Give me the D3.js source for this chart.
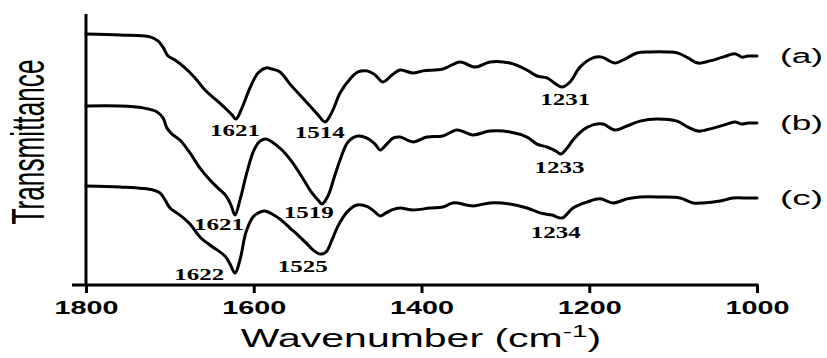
<!DOCTYPE html>
<html>
<head>
<meta charset="utf-8">
<script src="https://cdn.jsdelivr.net/npm/d3@7"></script>
<style>
  body { margin: 0; background: #fff; }
  svg { display: block; }
</style>
</head>
<body>
<div id="Area"></div>
<script>
// FTIR spectra, wavenumber (cm-1) vs transmittance (a.u.)
let aWn = [1800,1759.5,1723.7,1714.2,1708.2,1702.2,1693.9,1682.0,1670.0,1658.1,1646.2,1634.3,1625.9,1621.2,1614.0,1604.5,1594.9,1585.4,1578.2,1568.7,1556.8,1544.9,1532.9,1523.4,1515.0,1506.7,1497.1,1485.2,1475.7,1465.0,1455.4,1445.9,1435.2,1425.6,1410.1,1398.2,1374.4,1354.1,1336.2,1318.3,1294.5,1274.2,1262.3,1250.4,1239.6,1232.5,1223.0,1211.0,1195.5,1184.8,1177.6,1169.3,1157.4,1143.1,1127.6,1107.3,1094.2,1082.3,1070.4,1056.0,1040.5,1026.2,1017.9,1010.7,1000];
let aT  = [93.0,92.6,91.9,90.4,88.1,84.8,83.3,80.4,76.7,72.2,68.9,65.6,63.0,61.5,65.6,73.0,78.5,80.4,80.0,78.9,74.4,70.4,66.3,63.0,60.4,64.1,71.1,76.3,78.9,79.3,77.8,75.2,77.8,79.6,78.5,79.3,80.0,82.6,80.7,82.6,82.2,79.6,77.4,76.7,74.4,73.3,75.2,80.7,84.1,84.4,83.3,82.2,83.7,85.9,86.3,86.3,85.9,84.1,82.2,83.0,84.4,85.6,84.4,84.8,84.8];

let bWn = [1800,1759.5,1732.0,1715.3,1708.2,1703.4,1697.5,1688.0,1676.0,1664.1,1652.2,1642.6,1633.1,1627.1,1622.4,1616.4,1608.0,1599.7,1592.5,1585.4,1578.2,1566.3,1554.4,1542.5,1530.6,1523.4,1518.6,1511.5,1504.3,1497.1,1487.6,1475.7,1465.0,1455.4,1449.5,1442.3,1434.0,1425.6,1410.1,1393.4,1374.4,1357.7,1338.6,1318.3,1294.5,1274.2,1262.3,1250.4,1239.6,1233.7,1226.5,1219.4,1207.4,1195.5,1183.6,1169.3,1155.0,1139.5,1119.2,1095.4,1082.3,1070.4,1052.4,1035.8,1026.2,1017.9,1010.7,1000];
let bT  = [66.3,66.3,65.6,64.1,61.9,58.1,55.9,53.7,48.9,43.3,38.9,35.9,33.0,29.6,25.9,31.5,41.9,50.0,53.3,54.1,53.0,50.0,45.6,40.0,34.1,31.5,30.0,33.0,39.6,46.3,53.0,55.2,54.4,52.2,50.0,51.9,54.4,54.8,53.0,54.8,55.2,57.4,55.6,57.0,56.7,54.8,52.2,51.1,49.6,48.5,50.7,53.7,57.4,59.3,59.6,57.4,58.9,60.7,61.5,60.7,58.5,57.0,58.1,59.6,60.4,59.6,60.0,60.0];

let cWn = [1800,1759.5,1720.1,1711.8,1705.8,1699.8,1688.0,1676.0,1664.1,1652.2,1643.8,1634.3,1628.3,1622.4,1616.4,1609.2,1600.9,1592.5,1586.6,1578.2,1568.7,1556.8,1547.3,1537.7,1529.4,1521.0,1513.9,1506.7,1499.5,1488.8,1476.9,1463.8,1455.4,1449.5,1442.3,1435.2,1425.6,1410.1,1389.9,1374.4,1362.4,1338.6,1318.3,1294.5,1274.2,1258.7,1244.4,1232.5,1219.4,1202.7,1187.2,1171.7,1155.0,1139.5,1115.7,1091.8,1076.3,1064.4,1044.1,1028.6,1011.9,1000];
let cT  = [36.7,36.3,35.2,34.1,31.5,28.5,25.9,22.6,17.8,14.8,13.0,10.7,7.8,4.4,9.3,19.6,25.2,27.0,27.4,26.3,24.4,21.1,18.5,15.6,13.0,11.5,12.2,16.7,21.9,27.0,29.6,28.9,27.0,25.6,26.7,27.8,28.5,27.8,28.5,28.9,30.4,29.3,30.4,30.0,28.5,26.7,25.9,24.8,28.5,30.7,31.9,30.4,31.9,32.6,32.6,32.2,30.4,30.4,31.1,32.2,32.2,32.2];

let seriesNames = ["(a)", "(b)", "(c)"];
let xTicks = [1800, 1600, 1400, 1200, 1000];

// peak annotations: series index and wavenumber
let peakSeries = [0, 0, 0, 1, 1, 1, 2, 2, 2];
let peakWn     = [1621, 1514, 1231, 1621, 1519, 1233, 1622, 1525, 1234];

drawSpectra();

function drawSpectra() {
    var width = 827, height = 358;
    var margin = {top: 15, right: 70, bottom: 73, left: 86};

    var svg = d3.select("#Area")
        .append("svg")
        .attr("width", width)
        .attr("height", height);

    var x = d3.scaleLinear()
        .domain([1800, 1000])
        .range([margin.left, width - margin.right]);

    var y = d3.scaleLinear()
        .domain([0, 100])
        .range([height - margin.bottom, margin.top]);

    var series = [
        {wn: aWn, t: aT},
        {wn: bWn, t: bT},
        {wn: cWn, t: cT}
    ];

    var line = d3.line()
        .x(d => x(d[0]))
        .y(d => y(d[1]))
        .curve(d3.curveCatmullRom.alpha(0.5));

    series.forEach(function (s, i) {
        var pts = d3.zip(s.wn, s.t);
        svg.append("path")
            .datum(pts)
            .attr("d", line)
            .attr("fill", "none")
            .attr("stroke", "#000")
            .attr("stroke-width", 3)
            .attr("stroke-linejoin", "round")
            .attr("stroke-linecap", "round");

        // series label on the right
        svg.append("text")
            .attr("x", x(1000) + 23)
            .attr("y", y(s.t[s.t.length - 1]) + 7)
            .attr("font-family", "Liberation Sans, Arial, sans-serif")
            .attr("font-size", 20)
            .attr("textLength", 43)
            .attr("lengthAdjust", "spacingAndGlyphs")
            .text(seriesNames[i]);
    });

    // peak labels, offsets in px relative to the band minimum
    var labelDx = [-1, -6, 2, -17, -13, -2, -36, -14, -5];
    var labelDy = [17, 16, 18, 15, 14, 19, 7, 18, 20];
    peakWn.forEach(function (p, k) {
        var s = series[peakSeries[k]];
        // lowest point within 20 cm-1 of the peak
        var best = -1;
        s.wn.forEach(function (w, j) {
            if (Math.abs(w - p) < 20 && (best < 0 || s.t[j] < s.t[best])) best = j;
        });
        svg.append("text")
            .attr("x", x(p) + labelDx[k])
            .attr("y", y(s.t[best]) + labelDy[k])
            .attr("text-anchor", "middle")
            .attr("font-family", "Liberation Serif, Times New Roman, serif")
            .attr("font-weight", "bold")
            .attr("font-size", 16)
            .attr("textLength", 50)
            .attr("lengthAdjust", "spacingAndGlyphs")
            .text(p);
    });

    // X axis
    var xAxis = svg.append("g")
        .attr("transform", "translate(0," + (height - margin.bottom) + ")")
        .call(d3.axisBottom(x).tickValues(xTicks).tickSize(8).tickSizeOuter(0).tickFormat(d3.format("d")));
    xAxis.select(".domain").remove();
    xAxis.selectAll(".tick line").attr("stroke", "#000").attr("stroke-width", 3);
    xAxis.selectAll(".tick text")
        .attr("y", 29)
        .attr("dy", 0)
        .attr("fill", "#000")
        .attr("font-family", "Liberation Sans, Arial, sans-serif")
        .attr("font-weight", "bold")
        .attr("font-size", 19)
        .attr("textLength", 64)
        .attr("lengthAdjust", "spacingAndGlyphs");
    xAxis.append("line")
        .attr("x1", x(1800) - 14).attr("x2", x(1000) + 1.5)
        .attr("y1", 0).attr("y2", 0)
        .attr("stroke", "#000").attr("stroke-width", 3);

    // Y axis (line only)
    svg.append("line")
        .attr("x1", x(1800)).attr("x2", x(1800))
        .attr("y1", margin.top - 1).attr("y2", height - margin.bottom)
        .attr("stroke", "#000").attr("stroke-width", 3);

    // axis titles
    var xt = svg.append("text")
        .attr("transform", "translate(421,347) scale(1.64,1)")
        .attr("text-anchor", "middle")
        .attr("font-family", "Liberation Sans, Arial, sans-serif")
        .attr("font-size", 25);
    xt.append("tspan").text("Wavenumber (cm");
    xt.append("tspan").attr("baseline-shift", "super").attr("font-size", 17).text("-1");
    xt.append("tspan").text(")");

    svg.append("text")
        .attr("transform", "translate(44,142) scale(1.5,1) rotate(-90)")
        .attr("text-anchor", "middle")
        .attr("font-family", "Liberation Sans Narrow, Liberation Sans, Arial, sans-serif")
        .attr("font-size", 31)
        .attr("textLength", 165)
        .attr("lengthAdjust", "spacingAndGlyphs")
        .text("Transmittance");
}
</script>
</body>
</html>
